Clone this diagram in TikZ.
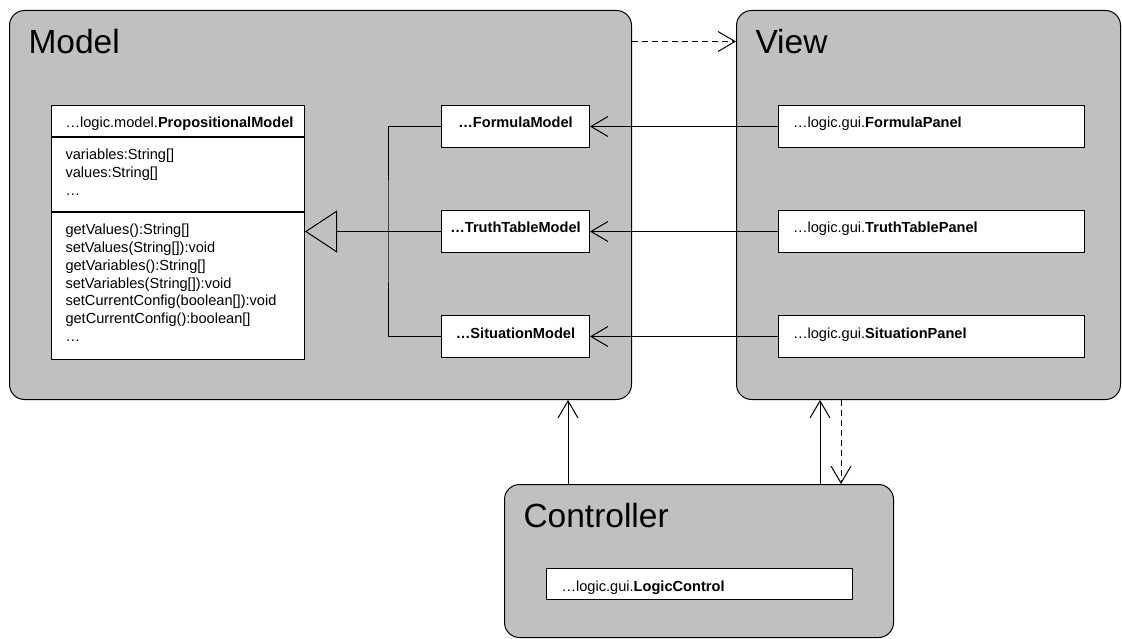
\documentclass[tikz,border=0pt]{standalone}
\usepackage{fontspec}
\setmainfont{Liberation Sans}
\usepackage{tikz}
\usetikzlibrary{arrows.meta, positioning}
\definecolor{pkgGray}{RGB}{192,192,192}
\newcommand\clsFont{\fontsize{14.6}{17.7}\selectfont}
\newcommand\pkgFont{\fontsize{33.5}{40}\selectfont}

\begin{document}
\begin{tikzpicture}[x=1pt, y=-1pt, line width=1pt,
    pkg/.style = {draw, fill=pkgGray, rounded corners=15pt, anchor=north west},
    pkgtitle/.style = {anchor=base west, inner sep=0pt, font=\pkgFont},
    cls/.style = {draw, fill=white, font=\clsFont, inner ysep=0pt, text height=22.5pt, text depth=19.5pt},
    member/.style = {cls, text width=225pt, inner xsep=14pt, align=left},
    assoc/.style = {-{Straight Barb[length=17pt, width=20pt]}},
    dep/.style = {assoc, dash pattern=on 6pt off 4pt},
    inherit/.style = {-{Triangle[open, length=32pt, width=42pt]}}]
  \useasboundingbox (0,0) rectangle (1122,639);

  \node[pkg, minimum width=622pt, minimum height=389pt] (model) at (9,10) {};
  \node[pkg, minimum width=384pt, minimum height=389pt] (view) at (736,10) {};
  \node[pkg, minimum width=389pt, minimum height=153pt] (ctrl) at (504,484) {};
  \node[pkgtitle] (modelTitle) at (28,53.5) {Model};
  \node[pkgtitle] (viewTitle) at (755,53.5) {View};
  \node[pkgtitle] (ctrlTitle) at (523,527) {Controller};

  \node[member, text depth=8.5pt, anchor=north west] (pmHead) at (51,105) {…logic.model.\textbf{PropositionalModel}};
  \node[member, text depth=51.5pt, below=0pt of pmHead] (pmAttr) {variables:String[]\\values:String[]\\…};
  \node[member, text depth=124.5pt, below=0pt of pmAttr] (pmOps) {getValues():String[]\\setValues(String[]):void\\getVariables():String[]\\setVariables(String[]):void\\setCurrentConfig(boolean[]):void\\getCurrentConfig():boolean[]\\…};

  \foreach \n/\lbl/\y in {f/Formula/105, t/TruthTable/210, s/Situation/315} {
    \node[cls, minimum width=148pt, anchor=north west] (\n-model) at (441,\y) {\textbf{…\lbl Model}};
    \node[cls, text width=277pt, inner xsep=14.5pt, align=left, anchor=north west] (\n-panel) at (778,\y) {…logic.gui.\textbf{\lbl Panel}};
    \draw[assoc] (\n-panel) -- (\n-model);
  }
  \node[cls, text depth=8.5pt, text width=276pt, inner xsep=15pt, align=left, anchor=north west] (logicCtrl) at (546,568) {…logic.gui.\textbf{LogicControl}};

  \coordinate (bus) at (388,231);
  \draw (f-model.west) -| (bus) |- (s-model.west);
  \draw[inherit] (t-model.west) -- (t-model.west -| pmOps.east);

  \draw[dep] (modelTitle.center -| model.east) -- (modelTitle.center -| view.west);
  \coordinate (c-m) at ([xshift=64pt]ctrl.north west);
  \coordinate (c-v) at ([xshift=316pt]ctrl.north west);
  \coordinate (v-c) at ([xshift=337pt]ctrl.north west);
  \draw[assoc] (c-m) -- (c-m |- model.south);
  \draw[assoc] (c-v) -- (c-v |- view.south);
  \draw[dep] (v-c |- view.south) -- (v-c);
\end{tikzpicture}
\end{document}
